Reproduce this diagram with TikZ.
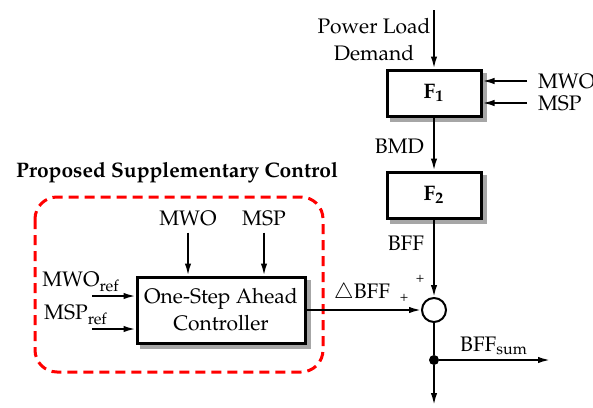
\documentclass[tikz,border=0pt]{standalone}
\usepackage[T1]{fontenc}
\usepackage{mathpazo}
\usepackage{tikz}
\usetikzlibrary{arrows.meta,positioning,backgrounds}

\tikzset{
  block/.style={draw, fill=white, line width=1.5pt, minimum width=47pt, minimum height=23pt},
  shade box/.style={fill=gray!70},
  sig/.style={->, line width=0.9pt},
  sumnode/.style={draw, circle, fill=white, line width=1pt, minimum size=12pt, inner sep=0pt},
  dotnode/.style={circle, fill=black, minimum size=5pt, inner sep=0pt},
  region/.style={draw=red, dash pattern=on 5pt off 3pt, line width=1.5pt, rounded corners=11pt}
}

\begin{document}
\begin{tikzpicture}[x=0.5pt, y=-0.5pt, >={Latex[length=6pt,width=3.2pt]},
  font=\fontsize{10.5}{13.5}\selectfont]
    \useasboundingbox (0,0) rectangle (593,407);

    % main chain
    \coordinate (top) at (434,10);
    \node[block] (f1) at (434,93) {\textbf{F\textsubscript{1}}};
    \node[block] (f2) at (434,195) {\textbf{F\textsubscript{2}}};
    \node[sumnode] (sum) at (434,310) {};
    \node[dotnode] (split) at (434,360) {};
    \coordinate (bottom) at (434,405);
    \coordinate (bffsum) at (550,360);

    \node[align=center] (pld) at (374,40) {Power Load\\Demand};
    \node[anchor=east] (bmd) at (431,146) {BMD};
    \node[anchor=east] (bff) at (431,243) {BFF};

    % inputs of F1
    \node[anchor=west] (mwoa) at (531,81) {MWO};
    \node[anchor=west] (mspa) at (531,103) {MSP};
    \coordinate (mwoin) at (527,81);
    \coordinate (mspin) at (527,103);

    \draw[sig] (top) -- (f1);
    \draw[sig] (f1) -- (f2);
    \draw[sig] (f2) -- (sum);
    \draw[line width=0.9pt] (sum) -- (split);
    \draw[sig] (split) -- (bottom);
    \draw[sig] (split) -- (bffsum);
    \draw[sig] (mwoin) -- (mwoin -| f1.east);
    \draw[sig] (mspin) -- (mspin -| f1.east);

    \node (bffs) at (494,346) {BFF\textsubscript{sum}};

    % supplementary control
    \node[font=\fontsize{10.5}{13.5}\selectfont\bfseries] (title) at (177,173) {Proposed Supplementary Control};
    \draw[region] (35,197) rectangle (323,372);

    \node[block, minimum width=84pt, minimum height=33pt, align=center] (ctrl) at (221,310)
      {One-Step Ahead\\Controller};
    \node (mwob) at (188,218) {MWO};
    \node (mspb) at (264,218) {MSP};
    \draw[sig] (mwob) -- (mwob |- ctrl.north);
    \draw[sig] (mspb) -- (mspb |- ctrl.north);

    \node (mworef) at (81,282) {MWO\textsubscript{ref}};
    \node (mspref) at (76,315) {MSP\textsubscript{ref}};
    \coordinate (in1) at (92,296);
    \coordinate (in2) at (92,329);
    \draw[sig] (in1) -- (in1 -| ctrl.west);
    \draw[sig] (in2) -- (in2 -| ctrl.west);

    \draw[sig] (ctrl) -- (sum);
    \node (dbff) at (362,293) {$\triangle$BFF};
    \node[font=\scriptsize] (p1) at (404,298) {+};
    \node[font=\scriptsize] (p2) at (420,279) {+};

    % shadows of the blocks
    \begin{scope}[on background layer]
      \foreach \b in {f1,f2,ctrl}
        \fill[shade box] ([shift={(4,4)}]\b.south west) rectangle ([shift={(4,4)}]\b.north east);
    \end{scope}
\end{tikzpicture}
\end{document}
